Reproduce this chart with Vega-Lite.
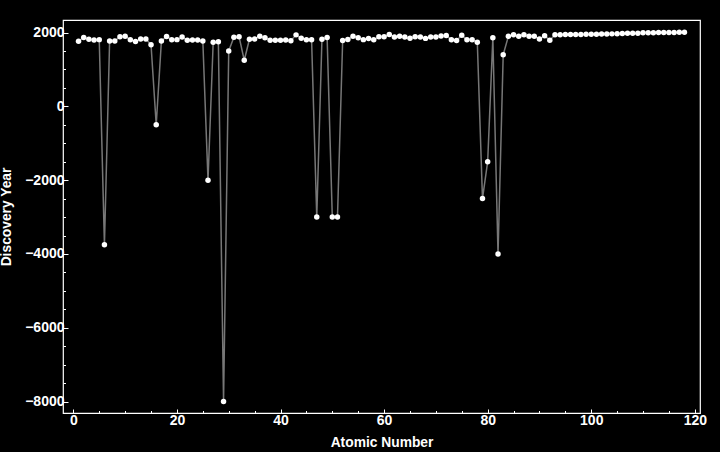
{
  "$schema": "https://vega.github.io/schema/vega-lite/v6.json",
  "width": 637,
  "height": 393,
  "autosize": "none",
  "padding": {"left": 63, "top": 20, "right": 20, "bottom": 39},
  "background": "black",
  "config": {
    "view": {"stroke": "white", "strokeWidth": 1.2},
    "axis": {
      "grid": false,
      "domain": false,
      "tickColor": "white",
      "tickWidth": 1,
      "labelColor": "white",
      "labelFont": "Liberation Sans",
      "labelFontWeight": "bold",
      "labelFontSize": 14,
      "titleColor": "white",
      "titleFont": "Liberation Sans",
      "titleFontWeight": "bold",
      "titleFontSize": 13.8
    }
  },
  "data": {
    "values": [
      {"Z": 1, "Year": 1766}, {"Z": 2, "Year": 1868}, {"Z": 3, "Year": 1817}, {"Z": 4, "Year": 1798},
      {"Z": 5, "Year": 1808}, {"Z": 6, "Year": -3750}, {"Z": 7, "Year": 1772}, {"Z": 8, "Year": 1774},
      {"Z": 9, "Year": 1886}, {"Z": 10, "Year": 1898}, {"Z": 11, "Year": 1807}, {"Z": 12, "Year": 1755},
      {"Z": 13, "Year": 1825}, {"Z": 14, "Year": 1824}, {"Z": 15, "Year": 1669}, {"Z": 16, "Year": -500},
      {"Z": 17, "Year": 1774}, {"Z": 18, "Year": 1894}, {"Z": 19, "Year": 1807}, {"Z": 20, "Year": 1808},
      {"Z": 21, "Year": 1879}, {"Z": 22, "Year": 1791}, {"Z": 23, "Year": 1801}, {"Z": 24, "Year": 1797},
      {"Z": 25, "Year": 1774}, {"Z": 26, "Year": -2000}, {"Z": 27, "Year": 1735}, {"Z": 28, "Year": 1751},
      {"Z": 29, "Year": -8000}, {"Z": 30, "Year": 1500}, {"Z": 31, "Year": 1875}, {"Z": 32, "Year": 1886},
      {"Z": 33, "Year": 1250}, {"Z": 34, "Year": 1817}, {"Z": 35, "Year": 1826}, {"Z": 36, "Year": 1898},
      {"Z": 37, "Year": 1861}, {"Z": 38, "Year": 1790}, {"Z": 39, "Year": 1794}, {"Z": 40, "Year": 1789},
      {"Z": 41, "Year": 1801}, {"Z": 42, "Year": 1778}, {"Z": 43, "Year": 1937}, {"Z": 44, "Year": 1844},
      {"Z": 45, "Year": 1803}, {"Z": 46, "Year": 1803}, {"Z": 47, "Year": -3000}, {"Z": 48, "Year": 1817},
      {"Z": 49, "Year": 1863}, {"Z": 50, "Year": -3000}, {"Z": 51, "Year": -3000}, {"Z": 52, "Year": 1782},
      {"Z": 53, "Year": 1811}, {"Z": 54, "Year": 1898}, {"Z": 55, "Year": 1860}, {"Z": 56, "Year": 1808},
      {"Z": 57, "Year": 1839}, {"Z": 58, "Year": 1803}, {"Z": 59, "Year": 1885}, {"Z": 60, "Year": 1885},
      {"Z": 61, "Year": 1945}, {"Z": 62, "Year": 1879}, {"Z": 63, "Year": 1901}, {"Z": 64, "Year": 1880},
      {"Z": 65, "Year": 1843}, {"Z": 66, "Year": 1886}, {"Z": 67, "Year": 1878}, {"Z": 68, "Year": 1842},
      {"Z": 69, "Year": 1879}, {"Z": 70, "Year": 1878}, {"Z": 71, "Year": 1907}, {"Z": 72, "Year": 1923},
      {"Z": 73, "Year": 1802}, {"Z": 74, "Year": 1783}, {"Z": 75, "Year": 1925}, {"Z": 76, "Year": 1803},
      {"Z": 77, "Year": 1803}, {"Z": 78, "Year": 1735}, {"Z": 79, "Year": -2500}, {"Z": 80, "Year": -1500},
      {"Z": 81, "Year": 1861}, {"Z": 82, "Year": -4000}, {"Z": 83, "Year": 1400}, {"Z": 84, "Year": 1898},
      {"Z": 85, "Year": 1940}, {"Z": 86, "Year": 1900}, {"Z": 87, "Year": 1939}, {"Z": 88, "Year": 1898},
      {"Z": 89, "Year": 1899}, {"Z": 90, "Year": 1828}, {"Z": 91, "Year": 1913}, {"Z": 92, "Year": 1789},
      {"Z": 93, "Year": 1940}, {"Z": 94, "Year": 1940}, {"Z": 95, "Year": 1944}, {"Z": 96, "Year": 1944},
      {"Z": 97, "Year": 1949}, {"Z": 98, "Year": 1950}, {"Z": 99, "Year": 1952}, {"Z": 100, "Year": 1952},
      {"Z": 101, "Year": 1955}, {"Z": 102, "Year": 1958}, {"Z": 103, "Year": 1961}, {"Z": 104, "Year": 1964},
      {"Z": 105, "Year": 1967}, {"Z": 106, "Year": 1974}, {"Z": 107, "Year": 1981}, {"Z": 108, "Year": 1984},
      {"Z": 109, "Year": 1982}, {"Z": 110, "Year": 1994}, {"Z": 111, "Year": 1994}, {"Z": 112, "Year": 1996},
      {"Z": 113, "Year": 2004}, {"Z": 114, "Year": 1999}, {"Z": 115, "Year": 2004}, {"Z": 116, "Year": 2000},
      {"Z": 117, "Year": 2010}, {"Z": 118, "Year": 2006}
    ]
  },
  "layer": [
    {
      "mark": {"type": "line", "color": "#777777", "strokeWidth": 1.5},
      "encoding": {
        "x": {
          "field": "Z", "type": "quantitative",
          "scale": {"domain": [-2, 121], "nice": false, "zero": false},
          "axis": {
            "orient": "bottom",
            "values": [0, 20, 40, 60, 80, 100, 120],
            "tickSize": -4,
            "labelPadding": 4,
            "title": "Atomic Number",
            "titlePadding": 8
          }
        },
        "y": {
          "field": "Year", "type": "quantitative",
          "scale": {"domain": [-8310, 2340], "nice": false, "zero": false},
          "axis": {
            "orient": "left",
            "format": "d",
            "values": [-8000, -6000, -4000, -2000, 0, 2000],
            "tickSize": -5,
            "labelPadding": 4,
            "title": "Discovery Year",
            "titleX": -50
          }
        }
      }
    },
    {
      "mark": {"type": "point", "filled": true, "color": "white", "size": 30, "opacity": 1},
      "encoding": {
        "x": {
          "field": "Z", "type": "quantitative",
          "axis": {
            "orient": "bottom",
            "values": [5, 10, 15, 25, 30, 35, 45, 50, 55, 65, 70, 75, 85, 90, 95, 105, 110, 115],
            "tickSize": -2.5,
            "labels": false,
            "title": null
          }
        },
        "y": {
          "field": "Year", "type": "quantitative",
          "axis": {
            "orient": "left",
            "values": [-8000, -7500, -7000, -6500, -6000, -5500, -5000, -4500, -4000, -3500, -3000, -2500, -2000, -1500, -1000, -500, 0, 500, 1000, 1500],
            "tickSize": -2.5,
            "labels": false,
            "title": null
          }
        }
      }
    }
  ],
  "resolve": {"axis": {"x": "independent", "y": "independent"}}
}
